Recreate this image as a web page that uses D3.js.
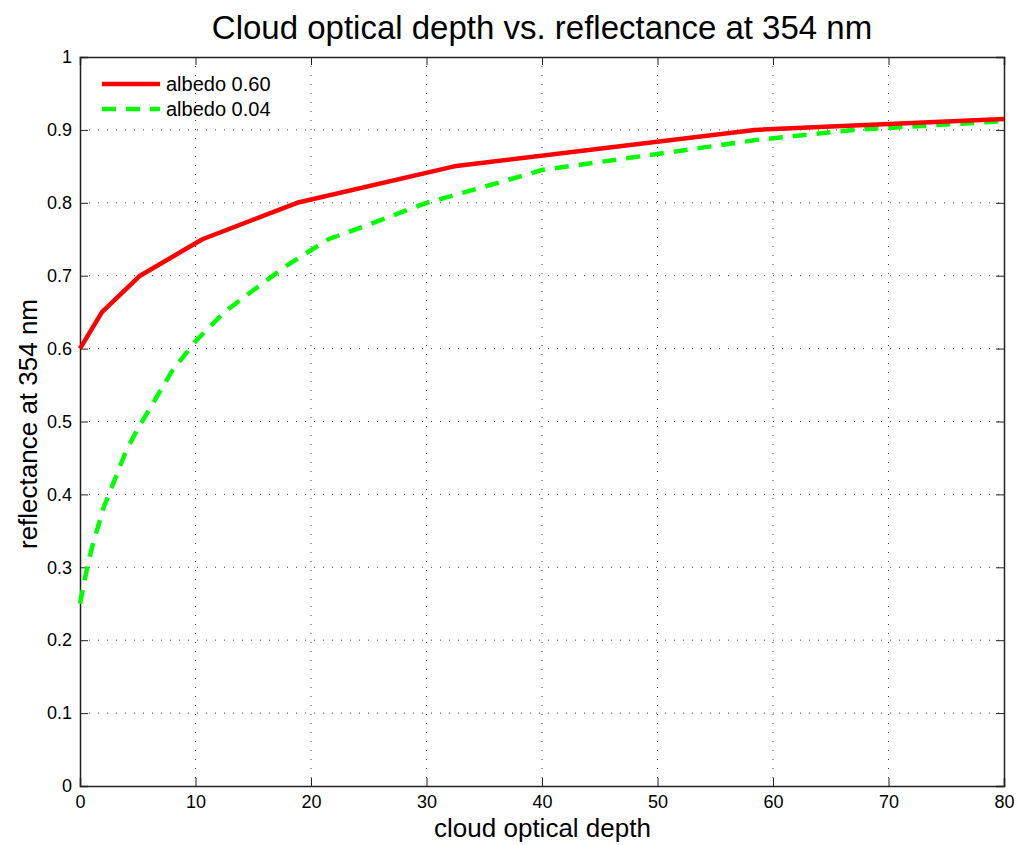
<!DOCTYPE html>
<html>
<head>
<meta charset="utf-8">
<script src="https://cdn.jsdelivr.net/npm/d3@7"></script>
<style>
  body { margin: 0; background: #fff; }
  text { font-family: "Liberation Sans", Arial, sans-serif; fill: #000; }
</style>
</head>
<body>
<svg id="chart" width="1017" height="845"></svg>
<script>
// data
var tauRed = [0, 1.9, 5.2, 10.6, 18.8, 32.4, 58.4, 80];
var reflRed = [0.60, 0.65, 0.70, 0.75, 0.80, 0.85, 0.90, 0.915];

var tauGreen = [0, 0.5, 1, 2, 3, 4, 5, 6.5, 8, 10, 12.5, 15, 18, 21.5, 25, 30, 35, 40, 50, 58.5, 67, 80];
var reflGreen = [0.25, 0.29, 0.325, 0.38, 0.42, 0.46, 0.49, 0.53, 0.57, 0.61, 0.65, 0.68, 0.715, 0.75, 0.77, 0.80, 0.822, 0.845, 0.867, 0.886, 0.90, 0.912];

var xTicks = [0, 10, 20, 30, 40, 50, 60, 70, 80];
var yTicks = [0, 0.1, 0.2, 0.3, 0.4, 0.5, 0.6, 0.7, 0.8, 0.9, 1];
var legendLabels = ["albedo 0.60", "albedo 0.04"];

var margin = {left: 80, top: 57, right: 13, bottom: 59};
var width = 1017 - margin.left - margin.right,
    height = 845 - margin.top - margin.bottom;

var svg = d3.select("#chart");
var g = svg.append("g").attr("transform", "translate(" + margin.left + "," + margin.top + ")");

var x = d3.scaleLinear().domain([0, 80]).range([0, width]);
var y = d3.scaleLinear().domain([0, 1]).range([height, 0]);

// dotted grid
g.selectAll(".vgrid").data(xTicks.slice(1, -1)).enter().append("line")
  .attr("x1", d => x(d)).attr("x2", d => x(d))
  .attr("y1", 0).attr("y2", height)
  .attr("stroke", "#444").attr("stroke-width", 1)
  .attr("stroke-dasharray", "1,8");
g.selectAll(".hgrid").data(yTicks.slice(1, -1)).enter().append("line")
  .attr("y1", d => y(d)).attr("y2", d => y(d))
  .attr("x1", 0).attr("x2", width)
  .attr("stroke", "#444").attr("stroke-width", 1)
  .attr("stroke-dasharray", "1,8");

// axes, ticks pointing inward, mirrored on top/right
var tickLen = 8;
g.append("g").attr("transform", "translate(0," + height + ")")
  .call(d3.axisBottom(x).tickValues(xTicks).tickSize(-tickLen).tickPadding(9).tickFormat(d3.format("d")));
g.append("g")
  .call(d3.axisLeft(y).tickValues(yTicks).tickSize(-tickLen).tickPadding(8).tickFormat(d => d === 0 || d === 1 ? d : d3.format(".1f")(d)));
g.append("g")
  .call(d3.axisTop(x).tickValues(xTicks).tickSize(-tickLen).tickFormat(""));
g.append("g").attr("transform", "translate(" + width + ",0)")
  .call(d3.axisRight(y).tickValues(yTicks).tickSize(-tickLen).tickFormat(""));

g.selectAll(".domain").attr("stroke", "#222").attr("stroke-width", 1.5);
g.selectAll(".tick line").attr("stroke", "#222");
g.selectAll(".tick text").style("font-size", "18px").attr("fill", "#000");

var line = d3.line().x(d => x(d[0])).y(d => y(d[1]));

g.append("path")
  .datum(d3.zip(tauGreen, reflGreen))
  .attr("d", line)
  .attr("fill", "none").attr("stroke", "#00ff00")
  .attr("stroke-width", 4.5).attr("stroke-dasharray", "14,10");

g.append("path")
  .datum(d3.zip(tauRed, reflRed))
  .attr("d", line)
  .attr("fill", "none").attr("stroke", "#ff0000")
  .attr("stroke-width", 4.5).attr("stroke-linejoin", "round");

// legend
var leg = g.append("g").attr("transform", "translate(22,27)");
var legColors = ["#ff0000", "#00ff00"], legDash = [null, "14,10"];
legendLabels.forEach(function (lab, i) {
  leg.append("line")
    .attr("x1", 0).attr("x2", 58).attr("y1", i * 25).attr("y2", i * 25)
    .attr("stroke", legColors[i]).attr("stroke-width", 4.5)
    .attr("stroke-dasharray", legDash[i]);
  leg.append("text").attr("x", 64).attr("y", i * 25 + 7)
    .style("font-size", "20px").text(lab);
});

// titles
svg.append("text").attr("x", margin.left + width / 2).attr("y", 39)
  .attr("text-anchor", "middle").style("font-size", "33px")
  .text("Cloud optical depth vs. reflectance at 354 nm");
svg.append("text").attr("x", margin.left + width / 2 + 0.5).attr("y", 837)
  .attr("text-anchor", "middle").style("font-size", "26px")
  .text("cloud optical depth");
svg.append("text")
  .attr("transform", "translate(37,424) rotate(-90)")
  .attr("text-anchor", "middle").style("font-size", "26px")
  .text("reflectance at 354 nm");
</script>
</body>
</html>
